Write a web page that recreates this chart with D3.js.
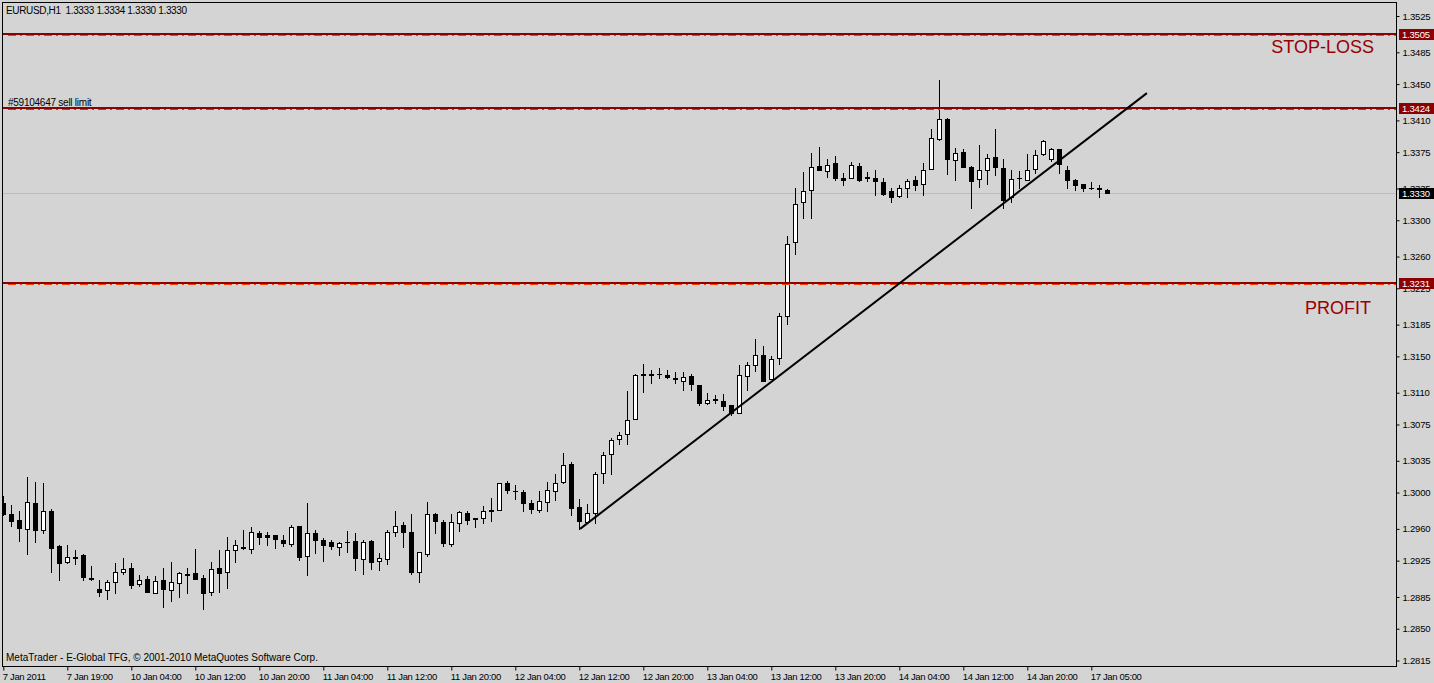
<!DOCTYPE html>
<html><head><meta charset="utf-8">
<script src="https://cdnjs.cloudflare.com/ajax/libs/d3/7.8.5/d3.min.js"></script>
<style>
html,body{margin:0;padding:0;background:#d4d4d4;overflow:hidden;}
svg{display:block;}
text{font-family:"Liberation Sans",Arial,sans-serif;}
</style></head><body><svg id="c" width="1434" height="683"></svg>
<script>
const symbolName = "EURUSD,H1";
const lastQuote = ["1.3333", "1.3334", "1.3330", "1.3330"];
const copyright = "MetaTrader - E-Global TFG, \u00a9 2001-2010 MetaQuotes Software Corp.";

const opens = [
1.2988,1.2976,1.2970,1.2960,1.2989,1.2959,1.2980,1.2941,1.2923,1.2929,
1.2931,1.2906,1.2894,1.2893,1.2902,1.2912,1.2917,1.2899,1.2905,1.2889,
1.2904,1.2893,1.2900,1.2909,1.2911,1.2906,1.2891,1.2917,1.2912,1.2937,
1.2940,1.2938,1.2956,1.2953,1.2953,1.2948,1.2943,1.2963,1.2930,1.2956,
1.2948,1.2946,1.2940,1.2945,1.2947,1.2927,1.2947,1.2925,1.2927,1.2957,
1.2964,1.2957,1.2912,1.2932,1.2976,1.2968,1.2943,1.2967,1.2978,1.2972,
1.2972,1.2980,1.2981,1.3011,1.3002,1.3001,1.2989,1.2981,1.2990,1.3002,
1.3012,1.3031,1.2984,1.2968,1.2977,1.3022,1.3042,1.3059,1.3064,1.3081,
1.3129,1.3131,1.3131,1.3130,1.3126,1.3123,1.3128,1.3119,1.3099,1.3103,
1.3101,1.3097,1.3088,1.3128,1.3141,1.3151,1.3125,1.3148,1.3195,1.3276,
1.3320,1.3333,1.3360,1.3354,1.3363,1.3347,1.3347,1.3360,1.3346,1.3347,
1.3342,1.3332,1.3327,1.3336,1.3344,1.3340,1.3357,1.3390,1.3412,1.3366,
1.3375,1.3359,1.3345,1.3355,1.3370,1.3358,1.3326,1.3346,1.3344,1.3357,
1.3373,1.3368,1.3378,1.3355,1.3344,1.3340,1.3336,1.3336,1.3333];
const highs = [
1.2996,1.2986,1.2980,1.3017,1.3012,1.3010,1.2982,1.2942,1.2942,1.2937,
1.2932,1.2919,1.2904,1.2904,1.2922,1.2928,1.2922,1.2909,1.2908,1.2908,
1.2917,1.2923,1.2912,1.2917,1.2938,1.2909,1.2924,1.2937,1.2951,1.2948,
1.2959,1.2962,1.2958,1.2957,1.2953,1.2953,1.2964,1.2963,1.2989,1.2959,
1.2950,1.2948,1.2946,1.2958,1.2955,1.2948,1.2948,1.2933,1.2959,1.2980,
1.2968,1.2976,1.2934,1.2990,1.2977,1.2970,1.2976,1.2980,1.2980,1.2972,
1.2985,1.2994,1.3011,1.3013,1.3008,1.3003,1.2992,1.3002,1.3012,1.3020,
1.3044,1.3034,1.2993,1.2987,1.3023,1.3045,1.3060,1.3067,1.3112,1.3131,
1.3142,1.3135,1.3137,1.3135,1.3133,1.3133,1.3131,1.3119,1.3110,1.3107,
1.3109,1.3097,1.3140,1.3144,1.3169,1.3162,1.3150,1.3198,1.3283,1.3336,
1.3353,1.3374,1.3381,1.3367,1.3371,1.3352,1.3364,1.3363,1.3353,1.3355,
1.3347,1.3336,1.3339,1.3345,1.3349,1.3363,1.3400,1.3454,1.3413,1.3380,
1.3378,1.3360,1.3383,1.3373,1.3401,1.3368,1.3355,1.3354,1.3373,1.3377,
1.3388,1.3380,1.3378,1.3360,1.3345,1.3340,1.3342,1.3339,1.3334];
const lows = [
1.2975,1.2963,1.2947,1.2932,1.2945,1.2955,1.2912,1.2904,1.2922,1.2921,
1.2904,1.2904,1.2886,1.2883,1.2889,1.2910,1.2895,1.2897,1.2891,1.2889,
1.2874,1.2881,1.2885,1.2889,1.2905,1.2872,1.2887,1.2891,1.2895,1.2923,
1.2938,1.2933,1.2943,1.2942,1.2939,1.2941,1.2941,1.2926,1.2909,1.2933,
1.2925,1.2938,1.2931,1.2934,1.2915,1.2910,1.2916,1.2915,1.2921,1.2952,
1.2940,1.2910,1.2902,1.2930,1.2956,1.2941,1.2941,1.2958,1.2965,1.2962,
1.2967,1.2969,1.2981,1.2999,1.2993,1.2980,1.2977,1.2979,1.2980,1.2992,
1.3011,1.2975,1.2960,1.2966,1.2966,1.3011,1.3020,1.3053,1.3054,1.3081,
1.3111,1.3121,1.3126,1.3126,1.3121,1.3113,1.3113,1.3097,1.3098,1.3099,
1.3091,1.3085,1.3088,1.3113,1.3134,1.3123,1.3125,1.3142,1.3186,1.3263,
1.3302,1.3303,1.3355,1.3348,1.3344,1.3339,1.3347,1.3343,1.3343,1.3328,
1.3328,1.3320,1.3326,1.3326,1.3333,1.3328,1.3356,1.3388,1.3351,1.3344,
1.3359,1.3314,1.3337,1.3340,1.3350,1.3313,1.3320,1.3336,1.3344,1.3352,
1.3372,1.3365,1.3352,1.3336,1.3333,1.3332,1.3334,1.3326,1.3330];
const closes = [
1.2976,1.2969,1.2961,1.2990,1.2959,1.2980,1.2939,1.2922,1.2929,1.2928,
1.2907,1.2905,1.2891,1.2902,1.2912,1.2916,1.2898,1.2904,1.2891,1.2903,
1.2894,1.2902,1.2911,1.2910,1.2905,1.2889,1.2916,1.2911,1.2937,1.2942,
1.2939,1.2957,1.2951,1.2951,1.2949,1.2944,1.2962,1.2929,1.2955,1.2948,
1.2942,1.2941,1.2944,1.2946,1.2928,1.2946,1.2923,1.2928,1.2957,1.2963,
1.2957,1.2913,1.2934,1.2976,1.2969,1.2944,1.2968,1.2979,1.2970,1.2971,
1.2980,1.2981,1.3010,1.3003,1.3002,1.2988,1.2982,1.2991,1.3003,1.3011,
1.3030,1.2983,1.2969,1.2978,1.3020,1.3041,1.3058,1.3063,1.3080,1.3130,
1.3131,1.3130,1.3131,1.3127,1.3125,1.3127,1.3120,1.3099,1.3102,1.3102,
1.3095,1.3088,1.3129,1.3141,1.3152,1.3123,1.3147,1.3195,1.3274,1.3318,
1.3332,1.3359,1.3355,1.3361,1.3346,1.3344,1.3361,1.3344,1.3348,1.3343,
1.3329,1.3326,1.3336,1.3343,1.3339,1.3355,1.3391,1.3411,1.3367,1.3374,
1.3359,1.3343,1.3355,1.3369,1.3359,1.3322,1.3345,1.3347,1.3355,1.3372,
1.3387,1.3378,1.3362,1.3344,1.3339,1.3336,1.3335,1.3334,1.3330];

const timeTickBars = [0,8,16,24,32,40,48,56,64,72,80,88,96,104,112,120,128,136];
const timeTickLabels = ["7 Jan 2011","7 Jan 19:00","10 Jan 04:00","10 Jan 12:00","10 Jan 20:00",
"11 Jan 04:00","11 Jan 12:00","11 Jan 20:00","12 Jan 04:00","12 Jan 12:00","12 Jan 20:00",
"13 Jan 04:00","13 Jan 12:00","13 Jan 20:00","14 Jan 04:00","14 Jan 12:00","14 Jan 20:00","17 Jan 05:00"];
const priceTicks = [1.3525,1.3485,1.3450,1.3410,1.3375,1.3335,1.3300,1.3260,1.3225,1.3185,
1.3150,1.3110,1.3075,1.3035,1.3000,1.2960,1.2925,1.2885,1.2850,1.2815];

const stopLossPrice = 1.3505;
const sellLimitPrice = 1.3424;
const profitPrice = 1.3231;
const bidPrice = 1.3330;
const orderLabel = "#59104647 sell limit";
const trendBars = [72.1, 142.95];
const trendPrices = [1.2960, 1.3440];

const W = 1434, H = 683;
const plotL = 2, plotT = 2, plotR = 1396, plotB = 666;
const svg = d3.select("#c");
svg.append("rect").attr("width", W).attr("height", H).attr("fill", "#d4d4d4");

const x = d3.scaleLinear().domain([0, opens.length - 1]).range([3.3, 3.3 + 8 * (opens.length - 1)]);
const y = d3.scaleLinear().domain([1.2815, 1.3525]).range([660.5, 16]);

svg.append("defs").append("clipPath").attr("id", "pc")
  .append("rect").attr("x", plotL + 1).attr("y", plotT + 1)
  .attr("width", plotR - plotL - 1).attr("height", plotB - plotT - 1);
const plot = svg.append("g").attr("clip-path", "url(#pc)");

const py = v => Math.round(y(v)) + 0.5;

// bid line
plot.append("line").attr("x1", plotL).attr("x2", plotR)
  .attr("y1", py(bidPrice)).attr("y2", py(bidPrice))
  .attr("stroke", "#bcbcbc").attr("stroke-width", 1);

// candles
const bars = d3.range(opens.length).map(i => ({i, o: opens[i], h: highs[i], l: lows[i], c: closes[i]}));
const cg = plot.append("g");
bars.forEach(d => {
  const cx = Math.round(x(d.i));
  const g = cg.append("g");
  g.append("line").attr("x1", cx + 0.5).attr("x2", cx + 0.5)
    .attr("y1", Math.round(y(d.h))).attr("y2", Math.round(y(d.l)) + 1)
    .attr("stroke", "#000").attr("stroke-width", 1);
  const yt = Math.round(y(Math.max(d.o, d.c)));
  const yb = Math.round(y(Math.min(d.o, d.c)));
  const up = d.c >= d.o;
  if (yb - yt < 1) {
    g.append("line").attr("x1", cx - 2).attr("x2", cx + 3)
      .attr("y1", yt + 0.5).attr("y2", yt + 0.5).attr("stroke", "#000");
  } else {
    g.append("rect").attr("x", cx - 1.5).attr("y", yt + 0.5)
      .attr("width", 4).attr("height", yb - yt)
      .attr("fill", up ? "#fff" : "#000").attr("stroke", "#000").attr("stroke-width", 1);
  }
});

// level lines
function levelLine(p, dashColor) {
  const yy = Math.round(y(p));
  plot.append("line").attr("x1", plotL).attr("x2", plotR).attr("y1", yy).attr("y2", yy)
    .attr("stroke", "#8b0000").attr("stroke-width", 2);
  plot.append("line").attr("x1", plotL + 6).attr("x2", plotR).attr("y1", yy + 1.5).attr("y2", yy + 1.5)
    .attr("stroke", dashColor).attr("stroke-width", 1).attr("stroke-dasharray", "8,4,2,4");
}
levelLine(stopLossPrice, "#ff3c00");
levelLine(sellLimitPrice, "#1a8a1a");
levelLine(profitPrice, "#ff3c00");

// trend line
plot.append("line")
  .attr("x1", x(trendBars[0])).attr("y1", y(trendPrices[0]))
  .attr("x2", x(trendBars[1])).attr("y2", y(trendPrices[1]))
  .attr("stroke", "#000").attr("stroke-width", 2);

// texts in plot
svg.append("text").attr("x", 6).attr("y", 14).attr("font-size", 10).attr("letter-spacing", -0.35)
  .attr("fill", "#000").attr("xml:space", "preserve")
  .text(symbolName + "  " + lastQuote.join(" "));
svg.append("text").attr("x", 8).attr("y", Math.round(y(sellLimitPrice)) - 2).attr("font-size", 10)
  .attr("letter-spacing", -0.25).attr("fill", "#000").text(orderLabel);
svg.append("text").attr("x", 1374).attr("y", y(stopLossPrice) + 19).attr("text-anchor", "end")
  .attr("font-size", 18).attr("fill", "#990000").text("STOP-LOSS");
svg.append("text").attr("x", 1371).attr("y", y(profitPrice) + 31).attr("text-anchor", "end")
  .attr("font-size", 18).attr("fill", "#990000").text("PROFIT");
svg.append("text").attr("x", 6).attr("y", 661).attr("font-size", 10).attr("fill", "#000").text(copyright);

// frame
svg.append("rect").attr("x", plotL + 0.5).attr("y", plotT + 0.5)
  .attr("width", plotR - plotL).attr("height", plotB - plotT)
  .attr("fill", "none").attr("stroke", "#000").attr("stroke-width", 1);

// price axis
const ya = svg.append("g").attr("transform", `translate(${plotR + 0.5},0)`)
  .call(d3.axisRight(y).tickValues(priceTicks).tickSize(3).tickPadding(3).tickFormat(d3.format(".4f")));
ya.select(".domain").remove();
ya.selectAll(".tick line").attr("stroke", "#000");
ya.selectAll("text").attr("font-size", 9.5).attr("letter-spacing", -0.2).attr("fill", "#000")
  .attr("font-family", "Liberation Sans, Arial, sans-serif");

// time axis
const xa = svg.append("g").attr("transform", `translate(0,${plotB + 0.5})`)
  .call(d3.axisBottom(x).tickValues(timeTickBars).tickSize(4).tickPadding(3)
    .tickFormat((d, i) => timeTickLabels[i]));
xa.select(".domain").remove();
xa.selectAll(".tick line").attr("stroke", "#000");
xa.selectAll("text").attr("font-size", 9.5).attr("letter-spacing", -0.35).attr("fill", "#000")
  .attr("text-anchor", "start").attr("x", -1)
  .attr("font-family", "Liberation Sans, Arial, sans-serif");

// price tags
function tag(p, bg) {
  const yy = Math.round(y(p));
  const g = svg.append("g");
  g.append("rect").attr("x", plotR + 3).attr("y", yy - 5).attr("width", W - plotR - 3).attr("height", 11).attr("fill", bg);
  g.append("text").attr("x", plotR + 6).attr("y", yy + 4).attr("font-size", 9.5).attr("letter-spacing", -0.2)
    .attr("fill", "#fff").text(d3.format(".4f")(p));
}
tag(stopLossPrice, "#8b0000");
tag(sellLimitPrice, "#8b0000");
tag(profitPrice, "#8b0000");
tag(bidPrice, "#000");
</script></body></html>
